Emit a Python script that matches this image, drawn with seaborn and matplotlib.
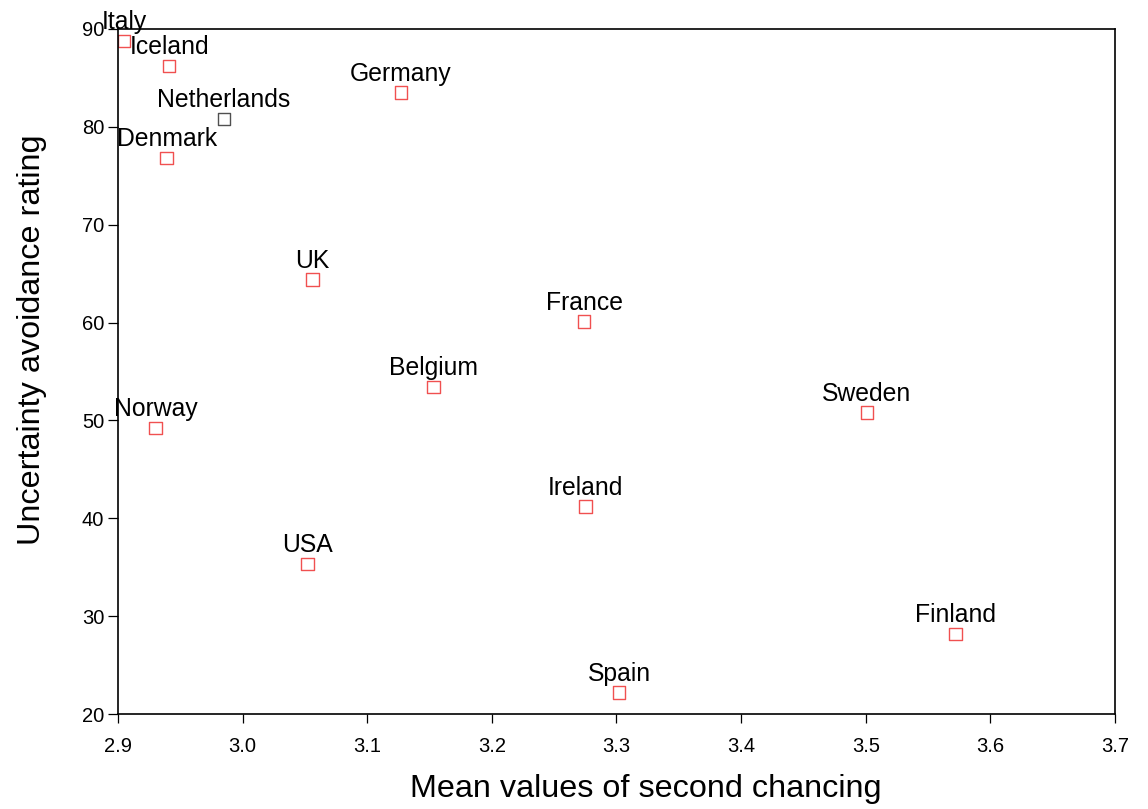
import matplotlib
matplotlib.use("Agg")
import matplotlib.pyplot as plt
import seaborn as sns
import pandas as pd
import numpy as np

countries = ["Italy", "Iceland", "Netherlands", "Germany", "Denmark", "UK", "France",
             "Belgium", "Norway", "Sweden", "Ireland", "USA", "Finland", "Spain"]
second_chancing = [2.905, 2.941, 2.985, 3.127, 2.939, 3.056, 3.274,
                   3.153, 2.930, 3.501, 3.275, 3.052, 3.572, 3.302]
uncertainty = [88.8, 86.2, 80.8, 83.5, 76.8, 64.4, 60.1,
               53.4, 49.2, 50.8, 41.2, 35.3, 28.2, 22.2]
group = ["red"] * 14
group[2] = "black"

x_ticks = [2.9, 3.0, 3.1, 3.2, 3.3, 3.4, 3.5, 3.6, 3.7]
y_ticks = [20, 30, 40, 50, 60, 70, 80, 90]

df = pd.DataFrame({"country": countries, "x": second_chancing,
                   "y": uncertainty, "group": group})

sns.set_theme(style="white")
plt.rcParams['font.family'] = ['Liberation Sans', 'DejaVu Sans']

fig = plt.figure(figsize=(11.48, 8.09), dpi=100)
ax = fig.add_axes([118/1148, 1-714/809, (1115-118)/1148, (714-29)/809])

palette = {"red": "#f05050", "black": "#505050"}
sns.scatterplot(data=df, x="x", y="y", hue="group", palette=palette,
                marker="s", s=80, linewidth=1.0, legend=False, ax=ax)
coll = ax.collections[0]
fc = coll.get_facecolors()
coll.set_edgecolors(fc)
coll.set_facecolors("none")

for c, xv, yv in zip(countries, second_chancing, uncertainty):
    ax.annotate(c, (xv, yv), xytext=(0, 5), textcoords="offset points",
                ha="center", va="bottom", fontsize=17.8, color="black",
                annotation_clip=False)

ax.set_xlim(2.9, 3.7)
ax.set_ylim(20, 90)
ax.set_xticks(x_ticks)
ax.set_xticklabels([f"{t:.1f}" for t in x_ticks])
ax.set_yticks(y_ticks)
ax.set_yticklabels([str(t) for t in y_ticks])

for s in ax.spines.values():
    s.set_visible(True)
    s.set_color("black")
    s.set_linewidth(1.2)

ax.tick_params(axis="x", direction="out", length=6.5, width=0.9, colors="black",
               labelsize=14.5, pad=10, bottom=True, top=False)
ax.tick_params(axis="y", direction="out", length=7, width=0.9, colors="black",
               labelsize=14.5, pad=3, left=True, right=False)

ax.set_xlabel("Mean values of second chancing", fontsize=23.3, color="black")
ax.set_ylabel("Uncertainty avoidance rating", fontsize=23.3, color="black")
ax.xaxis.set_label_coords(0.5296, -0.088)
ax.yaxis.set_label_coords(-0.071, 0.546)
ax.grid(False)

fig.savefig("out.png", dpi=100, facecolor="white")
